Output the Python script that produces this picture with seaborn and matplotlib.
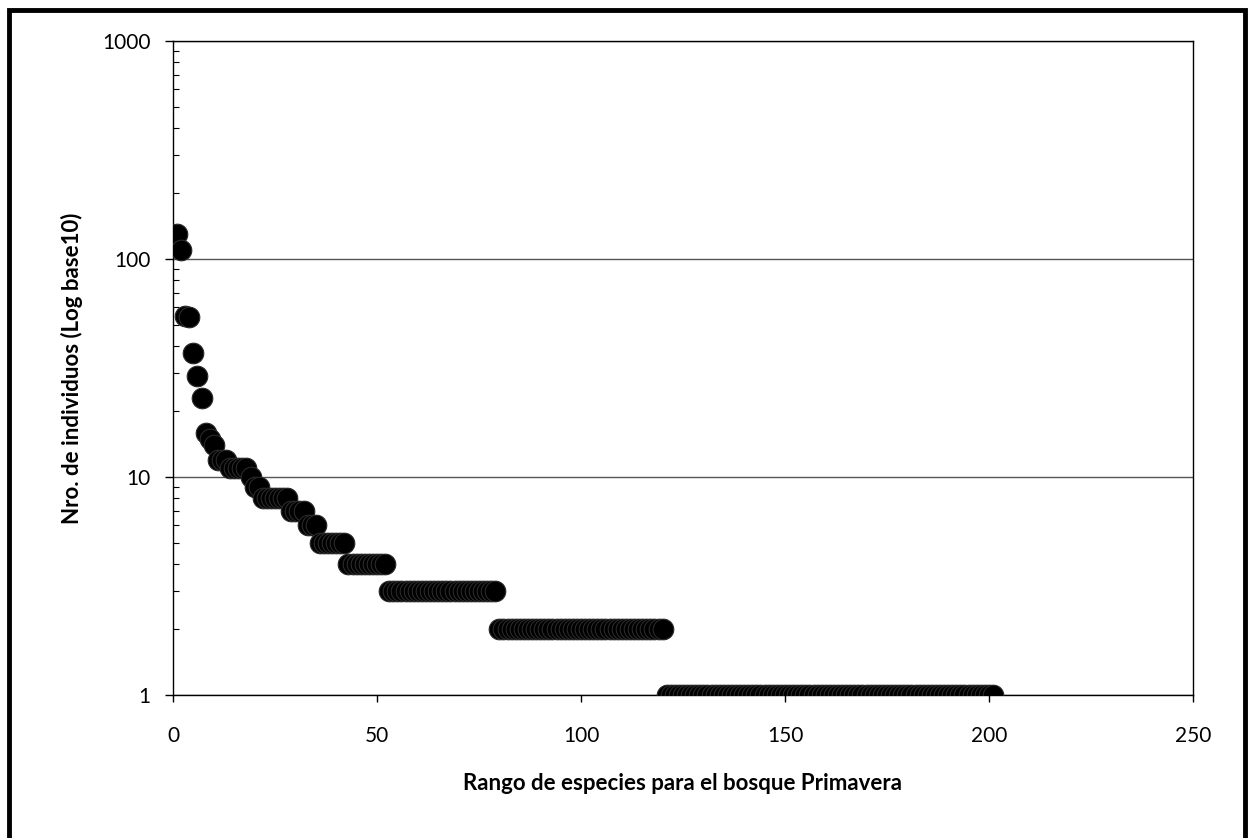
import matplotlib
matplotlib.use("Agg")
import matplotlib.pyplot as plt
import matplotlib.ticker as mticker
from matplotlib.patches import Rectangle
import seaborn as sns
import pandas as pd

# Abundance (number of individuals) per species, ordered by rank
abundance = [
    130, 110, 55, 54, 37, 29, 23, 16, 15, 14,
    12, 12, 12, 11, 11, 11, 11, 11, 10, 9,
    9, 8, 8, 8, 8, 8, 8, 8, 7, 7,
    7, 7, 6, 6, 6, 5, 5, 5, 5, 5,
    5, 5, 4, 4, 4, 4, 4, 4, 4, 4,
    4, 4, 3, 3, 3, 3, 3, 3, 3, 3,
    3, 3, 3, 3, 3, 3, 3, 3, 3, 3,
    3, 3, 3, 3, 3, 3, 3, 3, 3, 2,
    2, 2, 2, 2, 2, 2, 2, 2, 2, 2,
    2, 2, 2, 2, 2, 2, 2, 2, 2, 2,
    2, 2, 2, 2, 2, 2, 2, 2, 2, 2,
    2, 2, 2, 2, 2, 2, 2, 2, 2, 2,
    1, 1, 1, 1, 1, 1, 1, 1, 1, 1,
    1, 1, 1, 1, 1, 1, 1, 1, 1, 1,
    1, 1, 1, 1, 1, 1, 1, 1, 1, 1,
    1, 1, 1, 1, 1, 1, 1, 1, 1, 1,
    1, 1, 1, 1, 1, 1, 1, 1, 1, 1,
    1, 1, 1, 1, 1, 1, 1, 1, 1, 1,
    1, 1, 1, 1, 1, 1, 1, 1, 1, 1,
    1, 1, 1, 1, 1, 1, 1, 1, 1, 1,
    1,
]
rank = list(range(1, len(abundance) + 1))

x_ticks = [0, 50, 100, 150, 200, 250]
y_ticks = [1, 10, 100, 1000]
x_label = "Rango de especies para el bosque Primavera"
y_label = "Nro. de individuos (Log base10)"

df = pd.DataFrame({"rank": rank, "abundance": abundance})

sns.set_theme(style="white")
plt.rcParams["font.family"] = ["Lato", "DejaVu Sans"]

fig = plt.figure(figsize=(12.51, 8.38), dpi=100)
ax = fig.add_axes([0.1383, 0.1706, 0.8153, 0.7805])

sns.scatterplot(data=df, x="rank", y="abundance", ax=ax, s=220,
                color="black", edgecolor="#2a2a2a", linewidth=0.8, zorder=3,
                legend=False)

ax.set_yscale("log")
ax.set_xlim(0, 250)
ax.set_ylim(1, 1000)
ax.set_xticks(x_ticks)
ax.set_yticks(y_ticks)
ax.xaxis.set_major_formatter(mticker.FuncFormatter(lambda v, p: f"{int(v)}"))
ax.yaxis.set_major_formatter(mticker.FuncFormatter(lambda v, p: f"{int(v)}"))
ax.yaxis.set_minor_locator(mticker.LogLocator(base=10, subs=range(2, 10)))
ax.yaxis.set_minor_formatter(mticker.NullFormatter())

ax.grid(axis="y", which="major", color="#555555", linewidth=1.0, zorder=0)
ax.grid(axis="x", visible=False)

for side in ["top", "right", "left", "bottom"]:
    ax.spines[side].set_visible(True)
    ax.spines[side].set_color("black")
    ax.spines[side].set_linewidth(1.0)

ax.tick_params(axis="both", which="major", labelsize=15, colors="black",
               direction="out", length=6, width=1)
ax.tick_params(axis="y", which="major", left=True, length=6, pad=10)
ax.tick_params(axis="y", which="minor", left=True, length=4, width=0.8,
               direction="in", color="black")
ax.tick_params(axis="x", which="major", bottom=True, length=5, pad=17)

ax.set_xlabel(x_label, fontsize=16, fontweight="bold", color="black", labelpad=20)
ax.set_ylabel(y_label, fontsize=16, fontweight="bold", color="black", labelpad=14)

# outer chart border
fig.add_artist(Rectangle((0.0075, -0.01), 0.988, 0.9975, transform=fig.transFigure,
                         fill=False, edgecolor="black", linewidth=3.5))

fig.savefig("out.png", dpi=100, facecolor="white")
